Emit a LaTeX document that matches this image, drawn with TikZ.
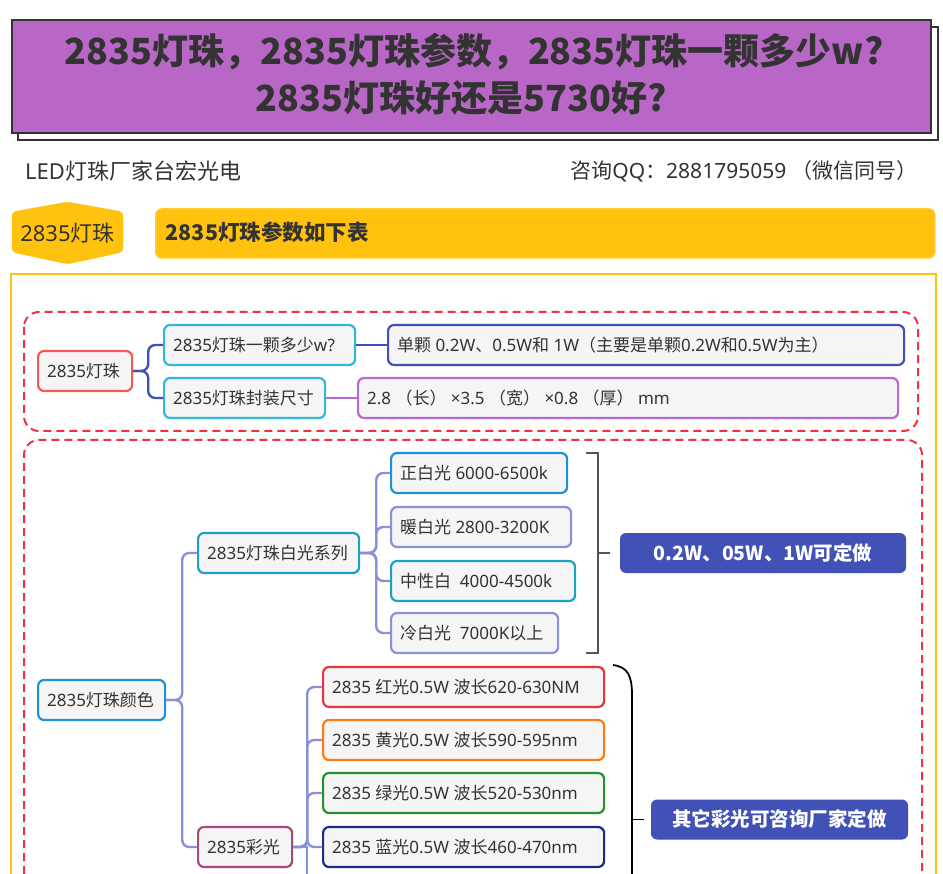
\documentclass[tikz,border=0pt]{standalone}
\usepackage{fontspec}
\setmainfont{Noto Sans}
\newfontfamily\cjkfont{Noto Sans CJK SC}
\newfontfamily\titlefont{Noto Sans CJK SC}
\XeTeXinterchartokenstate=1
\newXeTeXintercharclass\CJKcls
\count255="2E80
\loop \XeTeXcharclass\count255=\CJKcls \advance\count255 by 1 \ifnum\count255<"A000 \repeat
\count255="FF00
\loop \XeTeXcharclass\count255=\CJKcls \advance\count255 by 1 \ifnum\count255<"FFF0 \repeat
\XeTeXinterchartoks 0 \CJKcls = {\begingroup\cjkfont}
\XeTeXinterchartoks 4095 \CJKcls = {\begingroup\cjkfont}
\XeTeXinterchartoks \CJKcls 0 = {\endgroup}
\XeTeXinterchartoks \CJKcls 4095 = {\endgroup}
\definecolor{txt}{HTML}{333333}
\definecolor{dark}{HTML}{333333}
\definecolor{titlepurple}{HTML}{B967C6}
\definecolor{yel}{HTML}{FFC20E}
\definecolor{reddash}{HTML}{F5303E}
\definecolor{boxfill}{HTML}{F5F5F5}
\definecolor{rootred}{HTML}{F25A5A}
\definecolor{cyanb}{HTML}{2FB8DA}
\definecolor{indigo}{HTML}{3F51B5}
\definecolor{purp}{HTML}{B86ACF}
\definecolor{lav}{HTML}{8891D8}
\definecolor{blueb}{HTML}{1E90DB}
\definecolor{tealb}{HTML}{1BA1C6}
\definecolor{maroon}{HTML}{A84880}
\definecolor{redb}{HTML}{E8343C}
\definecolor{orangeb}{HTML}{FF7A10}
\definecolor{greenb}{HTML}{23912F}
\definecolor{navyb}{HTML}{1F2A85}
\definecolor{sumfill}{HTML}{4151B5}
\definecolor{brk}{HTML}{555555}
\newcommand\lb[2]{\makebox[#1pt][l]{#2}}
\begin{document}
\begin{tikzpicture}[x=1pt,y=-1pt,
  every node/.style={text=txt},
  nd/.style={draw=#1, fill=boxfill, rounded corners=6, line width=2.2,
    minimum height=40, inner xsep=9, inner ysep=0, anchor=west,
    font=\fontsize{17}{19}\selectfont, text height=12.5, text depth=0},
  cn/.style={draw=#1, line width=2.4, rounded corners=7},
  sumbox/.style={fill=sumfill, rounded corners=6, minimum height=40,
    text=white, font=\fontsize{19.5}{22}\titlefont\bfseries, text height=14, text depth=0},
  dashbox/.style={draw=reddash, line width=2, dash pattern=on 8pt off 5pt, rounded corners=15}
]
\useasboundingbox (0,0) rectangle (943,874);
\clip (0,0) rectangle (943,874);
\fill[white] (0,0) rectangle (943,874);

% title
\draw[line width=2, draw=dark, fill=white] (18,27) rectangle (938,140);
\draw[line width=2, draw=dark, fill=titlepurple] (12,20) rectangle (931,133);
\node[font=\fontsize{36}{40}\titlefont\bfseries, text=dark] (t1) at (474,52) {2835灯珠，2835灯珠参数，2835灯珠一颗多少w?};
\node[font=\fontsize{36}{40}\titlefont\bfseries, text=dark] (t2) at (461,98) {2835灯珠好还是5730好?};

% subtitle
\node[anchor=west, font=\fontsize{22}{24}\selectfont, inner sep=0] (s1) at (25,171) {LED灯珠厂家台宏光电};
\node[anchor=east, font=\fontsize{21}{24}\selectfont, inner sep=0] (s2) at (918,171) {咨询QQ：2881795059 （微信同号）};

% header
\draw[fill=yel, draw=yel, rounded corners=4] (12,212) -- (67.5,202) -- (123,212) -- (123,252) -- (67.5,264) -- (12,252) -- cycle;
\node[font=\fontsize{22}{24}\selectfont] (hx) at (67.5,233) {2835灯珠};
\node[fill=yel, draw=yel!85!white, line width=1.5, rounded corners=6, minimum height=49, inner xsep=10, anchor=west,
  font=\fontsize{21.5}{24}\titlefont\bfseries, text height=15, text depth=0] (hb) at (155,233.5) {\lb{759}{2835灯珠参数如下表}};

% frames
\draw[yel, line width=2] (11,900) -- (11,274) -- (936,274) -- (936,900);
\draw[dashbox] (24,312) rectangle (918,431);
\draw[dashbox] (24,900) -- (24,440) -- (922,440) -- (922,900);

% section 1
\node[nd=rootred] (r1) at (37,371) {\lb{76}{2835灯珠}};
\node[nd=cyanb] (q1) at (163,345) {\lb{173}{2835灯珠一颗多少w?}};
\node[nd=cyanb] (q2) at (163,398) {\lb{143}{2835灯珠封装尺寸}};
\node[nd=indigo] (a1) at (387,345) {\lb{498}{单颗 0.2W、0.5W和 1W（主要是单颗0.2W和0.5W为主）}};
\node[nd=purp] (a2) at (357,398) {\lb{522}{2.8 （长） ×3.5 （宽） ×0.8 （厚） mm}};
\draw[cn=indigo] (r1.east) -- ++(15,0) |- (q1.west);
\draw[cn=indigo] (r1.east) -- ++(15,0) |- (q2.west);
\draw[cn=indigo] (q1.east) -- (a1.west);
\draw[cn=purp] (q2.east) -- (a2.west);

% section 2
\node[nd=blueb] (cr) at (37,700) {\lb{109}{2835灯珠颜色}};
\node[nd=tealb] (ws) at (197,553) {\lb{143}{2835灯珠白光系列}};
\node[nd=blueb] (w1) at (390,473) {\lb{158}{正白光 6000-6500k}};
\node[nd=lav] (w2) at (390,527) {\lb{162}{暖白光 2800-3200K}};
\node[nd=tealb] (w3) at (390,581) {\lb{166}{中性白\ \ 4000-4500k}};
\node[nd=lav] (w4) at (390,633) {\lb{149}{冷白光\ \ 7000K以上}};
\node[nd=maroon] (cai) at (197,847) {\lb{76}{2835彩光}};
\node[nd=redb] (k1) at (322,687) {\lb{263}{2835 红光0.5W 波长620-630NM}};
\node[nd=orangeb] (k2) at (322,740) {\lb{263}{2835 黄光0.5W 波长590-595nm}};
\node[nd=greenb] (k3) at (322,793) {\lb{263}{2835 绿光0.5W 波长520-530nm}};
\node[nd=navyb] (k4) at (322,847) {\lb{263}{2835 蓝光0.5W 波长460-470nm}};

\draw[cn=lav] (cr.east) -- ++(16,0) |- (ws.west);
\draw[cn=lav] (cr.east) -- ++(16,0) |- (cai.west);
\foreach \n in {w1,w2,w3,w4} \draw[cn=lav] (ws.east) -- ++(16,0) |- (\n.west);
\foreach \n in {k1,k2,k3,k4} \draw[cn=lav] (cai.east) -- ++(14,0) |- (\n.west);
\draw[cn=lav, sharp corners] (cai.east) -- ++(14,0) -- ++(0,80);

% summaries
\node[sumbox, minimum width=286] (sa) at (763,553) {0.2W、05W、1W可定做};
\node[sumbox, minimum width=257] (sb) at (779.5,819.5) {其它彩光可咨询厂家定做};
\draw[brk, line width=1.5] (586,453) -- (598,453) -- (598,653) -- (586,653);
\draw[brk, line width=1.5] (598,553) -- (610,553);
\draw[black, line width=1.8] (613,665) .. controls (628,667) and (632,676) .. (632,695) -- (632,900);
\draw[black, line width=1.8] (632,819.5) -- (644,819.5);
\end{tikzpicture}
\end{document}
